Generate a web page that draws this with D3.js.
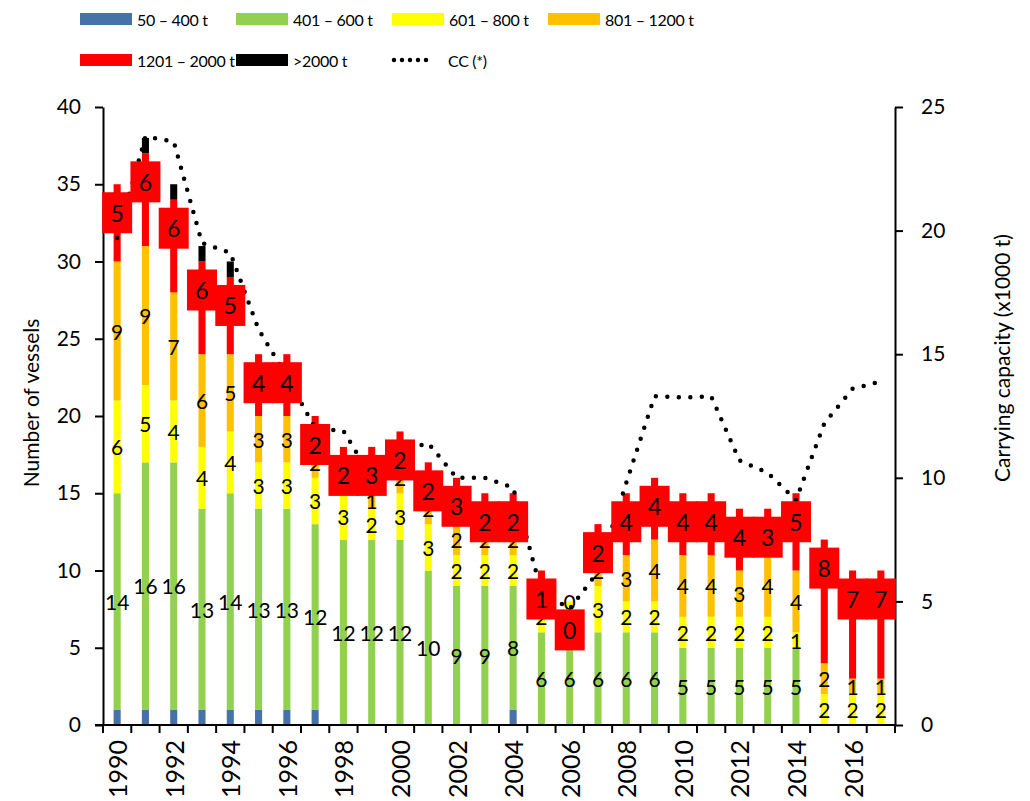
<!DOCTYPE html>
<html>
<head>
<meta charset="utf-8">
<script src="https://cdn.jsdelivr.net/npm/d3@7"></script>
<style>
  body { margin: 0; background: #fff; }
  text { font-family: Lato, "Liberation Sans", sans-serif; }
</style>
</head>
<body>
<div id="chart"></div>
<script>
// categories
const years = [1990, 1991, 1992, 1993, 1994, 1995, 1996, 1997, 1998, 1999,
  2000, 2001, 2002, 2003, 2004, 2005, 2006, 2007, 2008, 2009,
  2010, 2011, 2012, 2013, 2014, 2015, 2016, 2017];

// number of vessels per size class (null = no segment / no label)
const cls50_400 = [1, 1, 1, 1, 1, 1, 1, 1, null, null, null, null, null, null, 1, null, null, null, null, null, null, null, null, null, null, null, null, null];
const cls401_600 = [14, 16, 16, 13, 14, 13, 13, 12, 12, 12, 12, 10, 9, 9, 8, 6, 6, 6, 6, 6, 5, 5, 5, 5, 5, null, null, null];
const cls601_800 = [6, 5, 4, 4, 4, 3, 3, 3, 3, 2, 3, 3, 2, 2, 2, 2, 2, 3, 2, 2, 2, 2, 2, 2, 1, 2, 2, 2];
const cls801_1200 = [9, 9, 7, 6, 5, 3, 3, 2, 1, 1, 2, 2, 2, 2, 2, 1, 0, 2, 3, 4, 4, 4, 3, 4, 4, 2, 1, 1];
const cls1201_2000 = [5, 6, 6, 6, 5, 4, 4, 2, 2, 3, 2, 2, 3, 2, 2, 1, 0, 2, 4, 4, 4, 4, 4, 3, 5, 8, 7, 7];
const cls2000plus = [null, 1, 1, 1, 1, null, null, null, null, null, null, null, null, null, null, null, null, null, null, null, null, null, null, null, null, null, null, null];

// carrying capacity (x1000 t), right axis
const cc = [19.7, 23.8, 23.6, 19.5, 19.1, 16.0, 14.1, 12.0, 11.9, 10.0,
  11.1, 11.4, 10.0, 10.0, 9.6, 5.4, 4.7, 6.2, 9.8, 13.3,
  13.25, 13.3, 10.7, 10.2, 9.1, 12.2, 13.6, 13.9];

const leftTicks = [0, 5, 10, 15, 20, 25, 30, 35, 40];
const rightTicks = [0, 5, 10, 15, 20, 25];
const yearLabels = [1990, 1992, 1994, 1996, 1998, 2000, 2002, 2004, 2006, 2008, 2010, 2012, 2014, 2016];

const series = [
  { key: "a", name: "50 – 400 t", values: cls50_400, color: "#4672a8", label: false },
  { key: "b", name: "401 – 600 t", values: cls401_600, color: "#92d050", label: true },
  { key: "c", name: "601 – 800 t", values: cls601_800, color: "#ffff00", label: true },
  { key: "d", name: "801 – 1200 t", values: cls801_1200, color: "#ffc000", label: true },
  { key: "e", name: "1201 – 2000 t", values: cls1201_2000, color: "#ff0000", label: "box" },
  { key: "f", name: ">2000 t", values: cls2000plus, color: "#000000", label: false }
];

const width = 1030;
const height = 801;
const plotLeft = 103, plotRight = 895, plotTop = 107, plotBottom = 725;

const svg = d3.select("#chart").append("svg")
  .attr("width", width)
  .attr("height", height);

const x = d3.scaleBand()
  .domain(years)
  .range([plotLeft, plotRight])
  .paddingInner(0.75)
  .paddingOuter(0.375);

const yL = d3.scaleLinear().domain([0, 40]).range([plotBottom, plotTop]);
const yR = d3.scaleLinear().domain([0, 25]).range([plotBottom, plotTop]);

// table for stacking
const table = years.map((yr, i) => {
  const row = { year: yr };
  series.forEach(s => row[s.key] = s.values[i]);
  return row;
});

const stacked = d3.stack()
  .keys(series.map(s => s.key))
  .value((d, k) => d[k] == null ? 0 : d[k])(table);

// bars
svg.append("g")
  .selectAll("g")
  .data(stacked)
  .join("g")
  .attr("fill", (d, i) => series[i].color)
  .selectAll("rect")
  .data(d => d)
  .join("rect")
  .attr("x", d => x(d.data.year))
  .attr("y", d => yL(d[1]))
  .attr("width", x.bandwidth())
  .attr("height", d => yL(d[0]) - yL(d[1]));

// axes
const axisL = svg.append("g")
  .attr("transform", `translate(${plotLeft},0)`)
  .call(d3.axisLeft(yL).tickValues(leftTicks).tickSize(8).tickPadding(14).tickSizeOuter(0));
const axisR = svg.append("g")
  .attr("transform", `translate(${plotRight},0)`)
  .call(d3.axisRight(yR).tickValues(rightTicks).tickSize(8).tickPadding(18).tickSizeOuter(0));
[axisL, axisR].forEach(a => {
  a.select(".domain").attr("stroke-width", 2);
  a.selectAll(".tick line").attr("stroke-width", 2);
  a.selectAll("text").attr("font-size", 21).attr("font-family", "Lato").attr("fill", "#000");
});

// bottom axis: ticks sit between categories
const step = x.step();
const boundaries = years.map(yr => x(yr) + x.bandwidth() / 2 - step / 2)
  .concat([x(years[years.length - 1]) + x.bandwidth() / 2 + step / 2]);
svg.append("line")
  .attr("x1", plotLeft - 8).attr("x2", plotRight)
  .attr("y1", plotBottom).attr("y2", plotBottom)
  .attr("stroke", "#000").attr("stroke-width", 2);
svg.append("g")
  .selectAll("line")
  .data(boundaries)
  .join("line")
  .attr("x1", d => d).attr("x2", d => d)
  .attr("y1", plotBottom).attr("y2", plotBottom + 8)
  .attr("stroke", "#000").attr("stroke-width", 2);
svg.append("g")
  .selectAll("text")
  .data(yearLabels)
  .join("text")
  .attr("transform", d => `translate(${x(d) + x.bandwidth() / 2},${plotBottom + 15}) rotate(-90)`)
  .attr("text-anchor", "end")
  .attr("dominant-baseline", "central")
  .attr("font-size", 25)
  .text(d => d);

// axis titles
svg.append("text")
  .attr("transform", `translate(30,403) rotate(-90)`)
  .attr("text-anchor", "middle")
  .attr("dominant-baseline", "central")
  .attr("font-size", 21)
  .text("Number of vessels");
svg.append("text")
  .attr("transform", `translate(1001,358) rotate(-90)`)
  .attr("text-anchor", "middle")
  .attr("dominant-baseline", "central")
  .attr("font-size", 21)
  .text("Carrying capacity (x1000 t)");

// CC line
const line = d3.line()
  .x((d, i) => x(years[i]) + x.bandwidth() / 2)
  .y(d => yR(d));
svg.append("path")
  .datum(cc)
  .attr("d", line)
  .attr("fill", "none")
  .attr("stroke", "#000")
  .attr("stroke-width", 4.5)
  .attr("stroke-linecap", "round")
  .attr("stroke-dasharray", "0 11.5");

// segment labels
stacked.forEach((layer, i) => {
  const s = series[i];
  if (s.label !== true) return;
  svg.append("g")
    .selectAll("text")
    .data(layer.filter(d => d.data[s.key] != null))
    .join("text")
    .attr("x", d => x(d.data.year) + x.bandwidth() / 2)
    .attr("y", d => yL((d[0] + d[1]) / 2))
    .attr("text-anchor", "middle")
    .attr("dominant-baseline", "central")
    .attr("font-size", 21)
    .text(d => d.data[s.key]);
});

// red boxed labels (inside end)
const redIdx = series.findIndex(s => s.label === "box");
const redLayer = stacked[redIdx];
const boxes = svg.append("g")
  .selectAll("g")
  .data(redLayer)
  .join("g")
  .attr("transform", d => `translate(${x(d.data.year) + x.bandwidth() / 2},${yL(d[1]) + 8})`);
boxes.append("rect")
  .attr("x", -15).attr("y", 0)
  .attr("width", 30).attr("height", 41)
  .attr("fill", "#ff0000");
boxes.append("text")
  .attr("y", 20.5)
  .attr("text-anchor", "middle")
  .attr("dominant-baseline", "central")
  .attr("font-size", 23)
  .text(d => d.data[series[redIdx].key]);

// legend
const legendRows = [
  [series[0], series[1], series[2], series[3]],
  [series[4], series[5], { name: "CC (*)", dotted: true }]
];
const legendX = [80, 236, 392, 548];
const legendY = [19, 60];
legendRows.forEach((row, r) => {
  row.forEach((item, c) => {
    const g = svg.append("g").attr("transform", `translate(${legendX[c]},${legendY[r]})`);
    if (item.dotted) {
      g.append("line")
        .attr("x1", 2).attr("x2", 42).attr("y1", 0).attr("y2", 0)
        .attr("stroke", "#000").attr("stroke-width", 4.5)
        .attr("stroke-linecap", "round")
        .attr("stroke-dasharray", "0 8");
      g.append("text").attr("x", 56).attr("dominant-baseline", "central")
        .attr("font-size", 16).attr("letter-spacing", -0.3).text(item.name);
    } else {
      g.append("rect").attr("x", 0).attr("y", -6).attr("width", 52).attr("height", 12)
        .attr("fill", item.color);
      g.append("text").attr("x", 57).attr("dominant-baseline", "central")
        .attr("font-size", 16).attr("letter-spacing", -0.3).text(item.name);
    }
  });
});
</script>
</body>
</html>
